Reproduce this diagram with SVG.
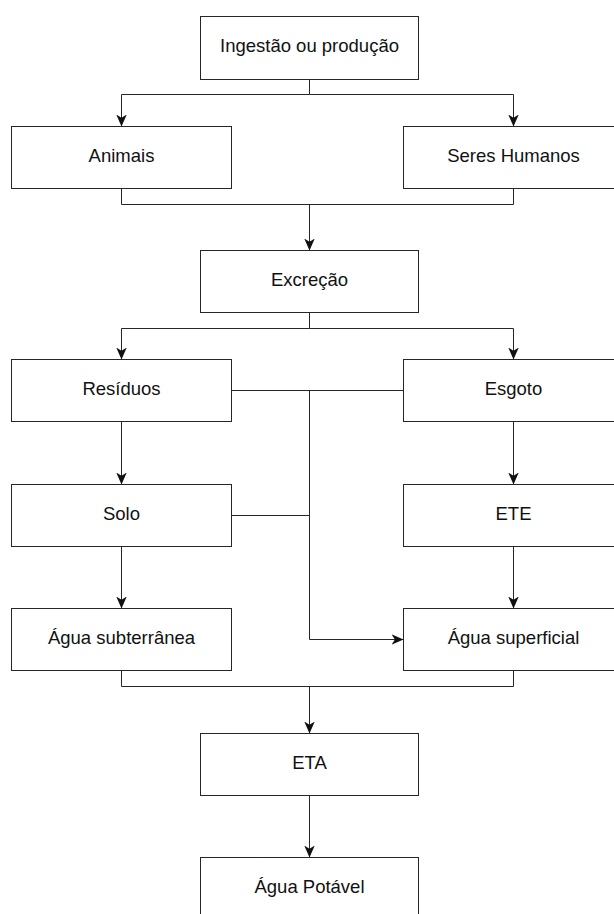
<svg xmlns="http://www.w3.org/2000/svg" width="614" height="914" viewBox="0 0 614 914">
  <style>
    .box { fill: #ffffff; stroke: #262626; stroke-width: 1; }
    .lbl { font-family: "Liberation Sans", Arial, sans-serif; font-size: 18.5px; fill: #111111; text-anchor: middle; }
    .edge { fill: none; stroke: #262626; stroke-width: 1; }
    .arr { marker-end: url(#ah); }
  </style>
  <defs>
    <marker id="ah" viewBox="0 0 10 10" refX="10" refY="5" markerWidth="12" markerHeight="12" markerUnits="userSpaceOnUse" orient="auto">
      <path d="M0,0.6 L10,5 L0,9.4 L2.8,5 z" fill="#111111"/>
    </marker>
  </defs>
  <rect width="614" height="914" fill="#ffffff"/>

  <g id="connectors">
    <path class="edge" d="M309.5,79.5 V94.5"/>
    <path class="edge arr" d="M309.5,94.5 H121.5 V126.5"/>
    <path class="edge arr" d="M309.5,94.5 H513.5 V126.5"/>
    <path class="edge" d="M121.5,188.5 V204.5 H513.5 V188.5"/>
    <path class="edge arr" d="M309.5,204.5 V250.5"/>
    <path class="edge" d="M309.5,312.5 V328.5"/>
    <path class="edge arr" d="M309.5,328.5 H121.5 V359.5"/>
    <path class="edge arr" d="M309.5,328.5 H513.5 V359.5"/>
    <path class="edge" d="M231.5,390.5 H403.5"/>
    <path class="edge" d="M231.5,515.5 H309.5"/>
    <path class="edge arr" d="M309.5,390.5 V639.5 H403.5"/>
    <path class="edge arr" d="M121.5,421.5 V484.5"/>
    <path class="edge arr" d="M121.5,546.5 V608.5"/>
    <path class="edge arr" d="M513.5,421.5 V484.5"/>
    <path class="edge arr" d="M513.5,546.5 V608.5"/>
    <path class="edge" d="M121.5,670.5 V686.5 H513.5 V670.5"/>
    <path class="edge arr" d="M309.5,686.5 V733.5"/>
    <path class="edge arr" d="M309.5,795.5 V857.5"/>
  </g>

  <g id="ingestao">
    <rect class="box" x="200.5" y="16.5" width="218" height="63"/>
    <text class="lbl" x="309.5" y="52">Ingestão ou produção</text>
  </g>
  <g id="animais">
    <rect class="box" x="11.5" y="126.5" width="220" height="62"/>
    <text class="lbl" x="121.5" y="162">Animais</text>
  </g>
  <g id="seres-humanos">
    <rect class="box" x="403.5" y="126.5" width="220" height="62"/>
    <text class="lbl" x="513.5" y="162">Seres Humanos</text>
  </g>
  <g id="excrecao">
    <rect class="box" x="200.5" y="250.5" width="218" height="62"/>
    <text class="lbl" x="309.5" y="286">Excreção</text>
  </g>
  <g id="residuos">
    <rect class="box" x="11.5" y="359.5" width="220" height="62"/>
    <text class="lbl" x="121.5" y="395">Resíduos</text>
  </g>
  <g id="esgoto">
    <rect class="box" x="403.5" y="359.5" width="220" height="62"/>
    <text class="lbl" x="513.5" y="395">Esgoto</text>
  </g>
  <g id="solo">
    <rect class="box" x="11.5" y="484.5" width="220" height="62"/>
    <text class="lbl" x="121.5" y="520">Solo</text>
  </g>
  <g id="ete">
    <rect class="box" x="403.5" y="484.5" width="220" height="62"/>
    <text class="lbl" x="513.5" y="520">ETE</text>
  </g>
  <g id="agua-subterranea">
    <rect class="box" x="11.5" y="608.5" width="220" height="62"/>
    <text class="lbl" x="121.5" y="644">Água subterrânea</text>
  </g>
  <g id="agua-superficial">
    <rect class="box" x="403.5" y="608.5" width="220" height="62"/>
    <text class="lbl" x="513.5" y="644">Água superficial</text>
  </g>
  <g id="eta">
    <rect class="box" x="200.5" y="733.5" width="218" height="62"/>
    <text class="lbl" x="309.5" y="769">ETA</text>
  </g>
  <g id="agua-potavel">
    <rect class="box" x="200.5" y="857.5" width="218" height="62"/>
    <text class="lbl" x="309.5" y="893">Água Potável</text>
  </g>
</svg>
